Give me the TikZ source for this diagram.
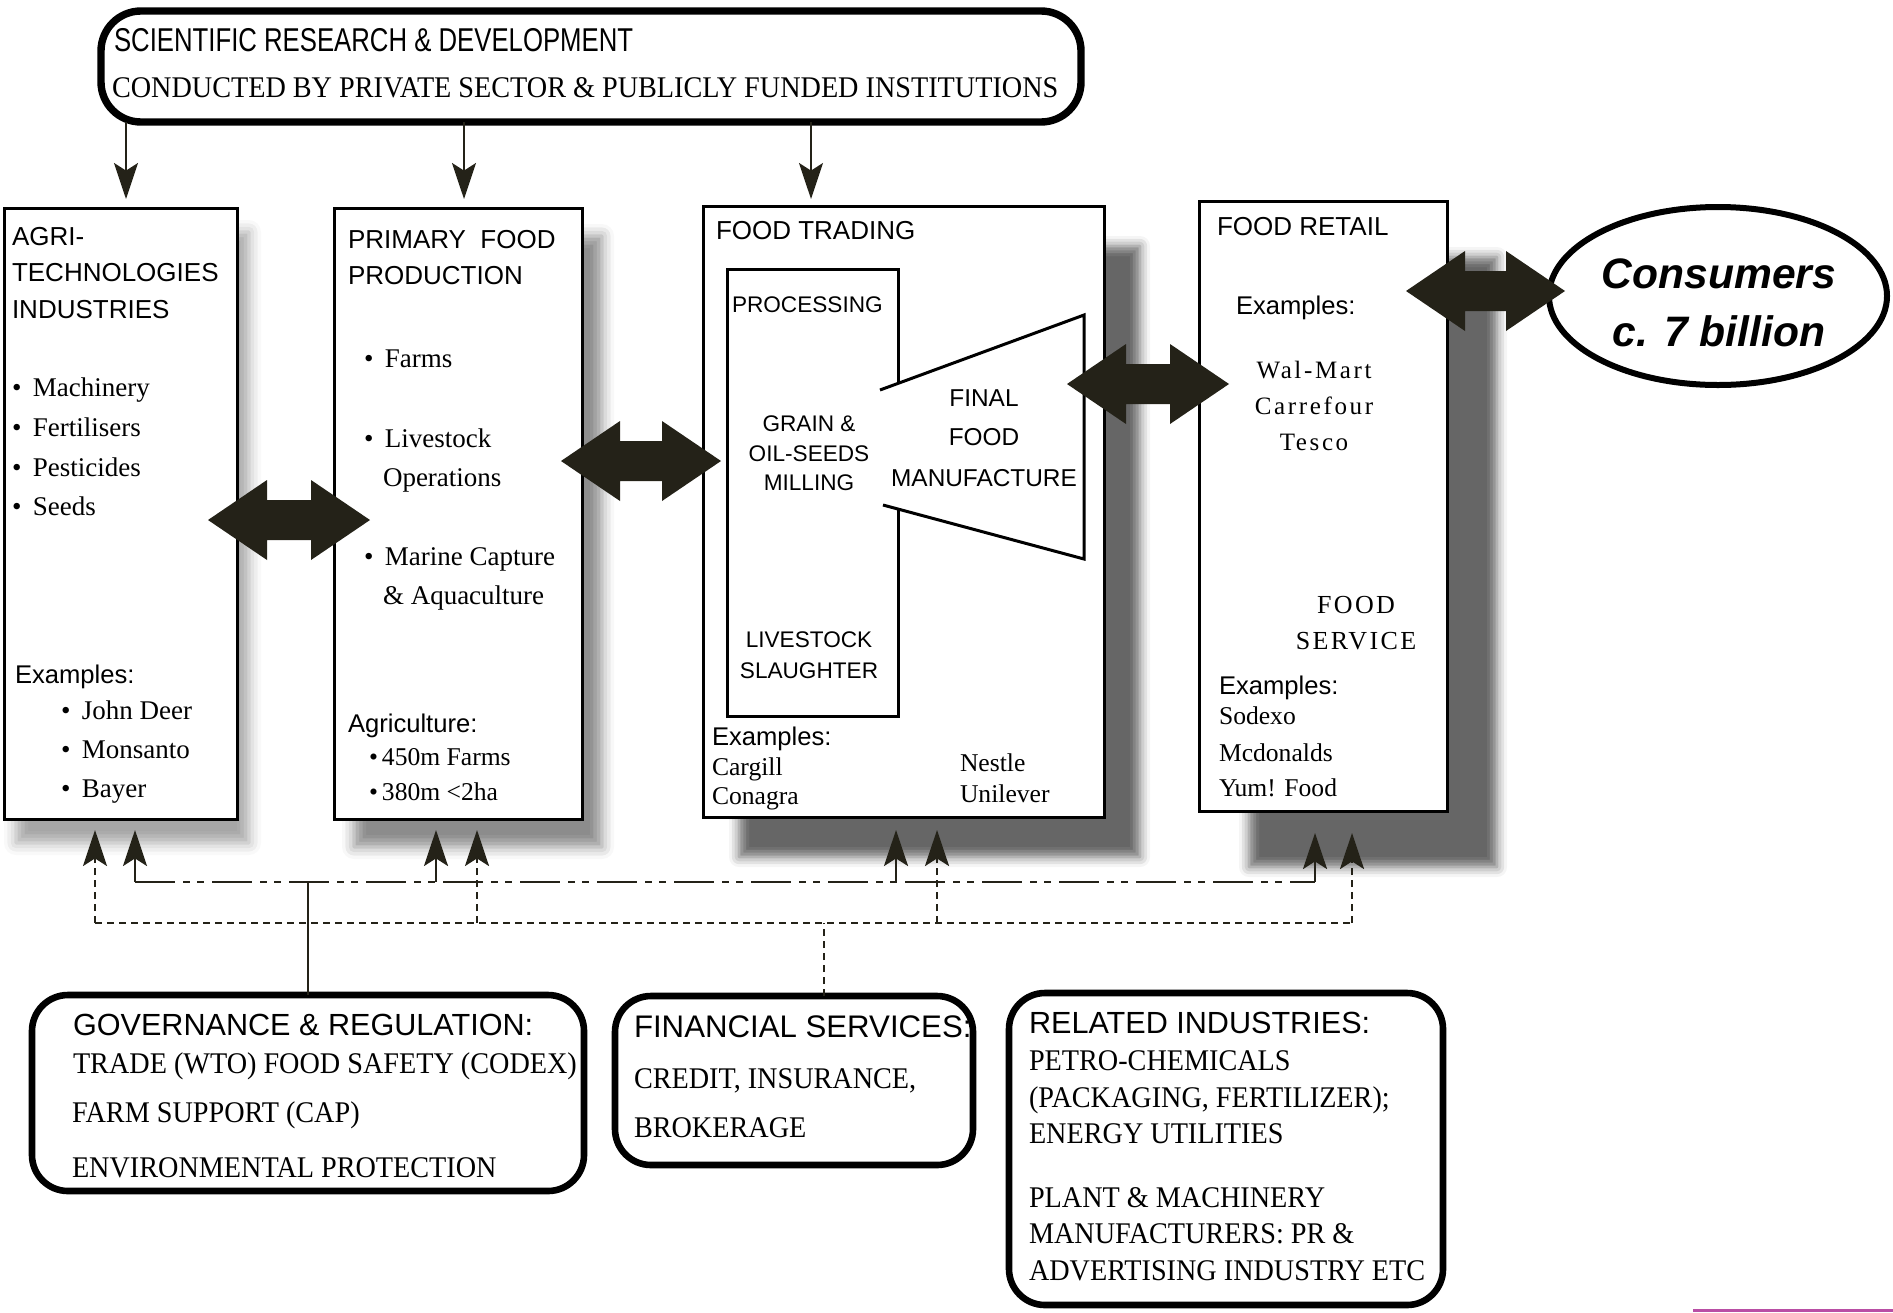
\documentclass[tikz,border=0pt]{standalone}
\usepackage{fontspec}
\setmainfont{Liberation Serif}
\setsansfont{Liberation Sans}
\newfontfamily\condsans[FakeStretch=0.78]{Liberation Sans}
\newfontfamily\condserif[FakeStretch=0.94]{Liberation Serif}
\newfontfamily\spserif[LetterSpace=10.5]{Liberation Serif}
\newfontfamily\spserifb[LetterSpace=9]{Liberation Serif}
\usetikzlibrary{arrows.meta,shadows.blur,fit,calc,shapes.geometric}
\definecolor{ink}{RGB}{36,34,24}
\definecolor{mag}{RGB}{185,78,165}
\newcommand\bul[1]{\makebox[#1][l]{\textbullet}}
\newcommand\bigdbl[2]{%
  \fill[ink] (#1) -- ++(59,-40) -- ++(0,20) -- ($(#2)+(-59,-20)$) -- ++(0,-20) -- (#2)
   -- ++(-59,40) -- ++(0,-20) -- ($(#1)+(59,20)$) -- ++(0,20) -- cycle;}
\tikzset{
  box/.style={draw=black, line width=1.5pt, fill=white, inner sep=0pt, outer sep=0pt},
  rbox/.style={draw=black, line width=3.3pt, fill=white, rounded corners=18pt, inner sep=0pt, outer sep=0pt},
  lab/.style={inner sep=0pt, outer sep=0pt, anchor=base west},
  labc/.style={inner sep=0pt, outer sep=0pt, anchor=base},
  hd/.style={font=\fontsize{13}{15}\selectfont\sffamily},
  sm/.style={font=\fontsize{11.3}{13}\selectfont\sffamily},
  md/.style={font=\fontsize{12.2}{14}\selectfont\sffamily},
  ex/.style={font=\fontsize{12.8}{15}\selectfont\sffamily},
  bl/.style={font=\fontsize{13.5}{16}\selectfont},
  sr/.style={font=\fontsize{12.8}{15}\selectfont},
  sp/.style={font=\fontsize{12.5}{15}\selectfont\spserif},
  big/.style={font=\fontsize{15.3}{18}\selectfont\sffamily},
  bs/.style={font=\fontsize{15}{18}\selectfont\condserif},
  tip/.style={-{Stealth[length=18pt,width=12pt,inset=3.8pt]}},
  topar/.style={draw=ink, line width=1pt, tip},
  ddline/.style={draw=ink, line width=1.3pt, dash pattern=on 20pt off 4pt on 3.5pt off 3.5pt on 3.5pt off 4pt},
  dline/.style={draw=ink, line width=1.3pt, dash pattern=on 3.5pt off 2.5pt},
  gline/.style={draw=ink, line width=1pt},
}
\begin{document}
\begin{tikzpicture}[x=0.5pt,y=-0.5pt]
\useasboundingbox (0,0) rectangle (1893,1312);

% ---------- top box ----------
\node[rbox, line width=3.7pt, rounded corners=20pt, fit={(101,11) (1081,122)}] (sci) {};
\node[lab, font=\fontsize{16.5}{19}\selectfont\condsans] (sci1) at (114,51) {SCIENTIFIC RESEARCH \& DEVELOPMENT};
\node[lab, font=\fontsize{15}{18}\selectfont\condserif] (sci2) at (112,97) {CONDUCTED BY PRIVATE SECTOR \& PUBLICLY FUNDED INSTITUTIONS};

% ---------- main boxes ----------
\node[box, fit={(4,208) (237,819)}, blur shadow={shadow xshift=6pt, shadow yshift=-12pt, shadow opacity=35, shadow blur radius=6pt}] (agri) {};
\node[box, fit={(334,208) (582,819)}, blur shadow={shadow xshift=10pt, shadow yshift=-14pt, shadow opacity=45, shadow blur radius=6pt}] (prim) {};
\node[box, fit={(703,206) (1104,817)}, blur shadow={shadow xshift=18pt, shadow yshift=-20pt, shadow opacity=60, shadow blur radius=5pt}] (trade) {};
\node[box, fit={(1199,201) (1447,811)}, blur shadow={shadow xshift=25pt, shadow yshift=-28pt, shadow opacity=60, shadow blur radius=5pt}] (retail) {};
\node[ellipse, draw=black, line width=3pt, fill=white, minimum width=169pt, minimum height=89pt, inner sep=0pt] (cons) at (1718,296) {};

% processing rectangle and final manufacture trapezoid
\draw[line width=1.5pt] (898,383) -- (898,269) -- (727,269) -- (727,716) -- (898,716) -- (898,509);
\draw[line width=1.5pt] (880,390) -- (1084,315) -- (1084,559) -- (883,505);

% ---------- box 1 text ----------
\node[lab, hd] (a1t1) at (12,245) {AGRI-};
\node[lab, hd] (a1t2) at (12,281) {TECHNOLOGIES};
\node[lab, hd] (a1t3) at (12,318) {INDUSTRIES};
\node[lab, bl] (a1b1) at (12,396) {\bul{10.5pt}Machinery};
\node[lab, bl] (a1b2) at (12,436) {\bul{10.5pt}Fertilisers};
\node[lab, bl] (a1b3) at (12,476) {\bul{10.5pt}Pesticides};
\node[lab, bl] (a1b4) at (12,515) {\bul{10.5pt}Seeds};
\node[lab, ex] (a1ex) at (15,683) {Examples:};
\node[lab, bl] (a1e1) at (61,719) {\bul{10.5pt}John Deer};
\node[lab, bl] (a1e2) at (61,758) {\bul{10.5pt}Monsanto};
\node[lab, bl] (a1e3) at (61,797) {\bul{10.5pt}Bayer};

% ---------- box 2 text ----------
\node[lab, hd] (p1) at (348,248) {PRIMARY\ \ FOOD};
\node[lab, hd] (p2) at (348,284) {PRODUCTION};
\node[lab, bl] (p3) at (364,367) {\bul{10.5pt}Farms};
\node[lab, bl] (p4) at (364,447) {\bul{10.5pt}Livestock};
\node[lab, bl] (p5) at (383,486) {Operations};
\node[lab, bl] (p6) at (364,565) {\bul{10.5pt}Marine Capture};
\node[lab, bl] (p7) at (383,604) {\& Aquaculture};
\node[lab, ex] (p8) at (348,732) {Agriculture:};
\node[lab, sr] (p9) at (369,765) {\bul{6.5pt}450m Farms};
\node[lab, sr] (p10) at (369,800) {\bul{6.5pt}380m <2ha};

% ---------- box 3 text ----------
\node[lab, hd] (f1) at (716,239) {FOOD TRADING};
\node[lab, sm] (f2) at (732,312) {PROCESSING};
\node[labc, sm] (f3) at (809,431) {GRAIN \&};
\node[labc, sm] (f4) at (809,461) {OIL-SEEDS};
\node[labc, sm] (f5) at (809,490) {MILLING};
\node[labc, md] (f6) at (984,406) {FINAL};
\node[labc, md] (f7) at (984,445) {FOOD};
\node[labc, md] (f8) at (984,486) {MANUFACTURE};
\node[labc, sm] (f9) at (809,647) {LIVESTOCK};
\node[labc, sm] (f10) at (809,678) {SLAUGHTER};
\node[lab, ex] (f11) at (712,745) {Examples:};
\node[lab, sr] (f12) at (712,775) {Cargill};
\node[lab, sr] (f13) at (712,804) {Conagra};
\node[lab, sr] (f14) at (960,771) {Nestle};
\node[lab, sr] (f15) at (960,802) {Unilever};

% ---------- box 4 text ----------
\node[lab, hd] (r1t) at (1217,235) {FOOD RETAIL};
\node[lab, ex] (r2t) at (1236,314) {Examples:};
\node[labc, sp] (r3t) at (1314,378) {Wal-Mart};
\node[labc, sp] (r4t) at (1314,414) {Carrefour};
\node[labc, sp] (r5t) at (1314,450) {Tesco};
\node[labc, font=\fontsize{13}{15}\selectfont\spserifb] (r6t) at (1356,613) {FOOD};
\node[labc, font=\fontsize{13}{15}\selectfont\spserifb] (r7t) at (1356,649) {SERVICE};
\node[lab, ex] (r8t) at (1219,694) {Examples:};
\node[lab, sr] (r9t) at (1219,724) {Sodexo};
\node[lab, sr] (r10t) at (1219,761) {Mcdonalds};
\node[lab, sr] (r11t) at (1219,796) {Yum! Food};

% ---------- consumers ----------
\node[labc, font=\fontsize{21.3}{25}\selectfont\sffamily\bfseries\itshape] (c1) at (1719,288) {Consumers};
\node[labc, font=\fontsize{21.3}{25}\selectfont\sffamily\bfseries\itshape] (c2) at (1719,346) {c. 7 billion};

% ---------- bottom boxes ----------
\node[rbox, fit={(32,995) (584,1191)}] (gov) {};
\node[rbox, fit={(615,996) (973,1165)}] (fin) {};
\node[rbox, fit={(1009,993) (1443,1305)}] (rel) {};

\node[lab, big] (g1) at (73,1035) {GOVERNANCE \& REGULATION:};
\node[lab, bs] (g2) at (73,1073) {TRADE (WTO) FOOD SAFETY (CODEX)};
\node[lab, bs] (g3) at (72,1122) {FARM SUPPORT (CAP)};
\node[lab, bs] (g4) at (72,1177) {ENVIRONMENTAL PROTECTION};

\node[lab, big, font=\fontsize{15.6}{18}\selectfont\sffamily] (s1) at (634,1037) {FINANCIAL SERVICES:};
\node[lab, bs] (s2) at (634,1088) {CREDIT, INSURANCE,};
\node[lab, bs] (s3) at (634,1137) {BROKERAGE};

\node[lab, big] (i1) at (1029,1033) {RELATED INDUSTRIES:};
\node[lab, bs] (i2) at (1029,1070) {PETRO-CHEMICALS};
\node[lab, bs] (i3) at (1029,1107) {(PACKAGING, FERTILIZER);};
\node[lab, bs] (i4) at (1029,1143) {ENERGY UTILITIES};
\node[lab, bs] (i5) at (1029,1207) {PLANT \& MACHINERY};
\node[lab, bs] (i6) at (1029,1243) {MANUFACTURERS: PR \&};
\node[lab, bs] (i7) at (1029,1280) {ADVERTISING INDUSTRY ETC};

% ---------- big double arrows ----------
\path ($(agri.east)+(-29,6.5)$) coordinate (A1a) ($(prim.west)+(36,6.5)$) coordinate (A1b);
\path ($(prim.east)+(-21,-52.5)$) coordinate (A2a) ($(trade.west)+(18,-50.5)$) coordinate (A2b);
\path ($(trade.east)+(-37,-127.5)$) coordinate (A3a) ($(retail.west)+(30,-122)$) coordinate (A3b);
\path ($(retail.east)+(-41,-215)$) coordinate (A4a) ($(cons.west)+(19,-5)$) coordinate (A4b);
\bigdbl{A1a}{A1b}
\bigdbl{A2a}{A2b}
\bigdbl{A3a}{A3b}
\bigdbl{A4a}{A4b}

% ---------- top arrows ----------
\coordinate (ta1) at ($(agri.north)+(5.5,-9)$);
\coordinate (ta2) at ($(prim.north)+(6,-9)$);
\coordinate (ta3) at ($(trade.north)+(-92.5,-7)$);
\draw[topar] (sci.south -| ta1) -- (ta1);
\draw[topar] (sci.south -| ta2) -- (ta2);
\draw[topar] (sci.south -| ta3) -- (ta3);

% ---------- bottom connectors ----------
\coordinate (rail1) at (0,882);
\coordinate (rail2) at (0,923);
\coordinate (ua1) at ($(agri.south)+(-25.5,11)$);
\coordinate (ua2) at ($(agri.south)+(14.5,11)$);
\coordinate (up1) at ($(prim.south)+(-22,11)$);
\coordinate (up2) at ($(prim.south)+(19,11)$);
\coordinate (ut1) at ($(trade.south)+(-7.5,13)$);
\coordinate (ut2) at ($(trade.south)+(33.5,13)$);
\coordinate (ur1) at ($(retail.south)+(-8,22)$);
\coordinate (ur2) at ($(retail.south)+(29,22)$);
\coordinate (finc) at ($(fin.north)+(30,0)$);

\draw[gline] (gov.north) -- (gov.north |- rail1);
\draw[ddline] (ua2 |- rail1) -- (ur1 |- rail1);
\foreach \c in {ua2,up1,ut1,ur1} \draw[ddline, tip] (\c |- rail1) -- (\c);
\draw[dline] (finc) -- (finc |- rail2);
\draw[dline] (ua1 |- rail2) -- (ur2 |- rail2);
\foreach \c in {ua1,up2,ut2,ur2} \draw[dline, tip] (\c |- rail2) -- (\c);

% stray magenta rule at bottom right
\draw[mag, line width=1.5pt] (1693,1310) -- (1893,1310);
\end{tikzpicture}
\end{document}
